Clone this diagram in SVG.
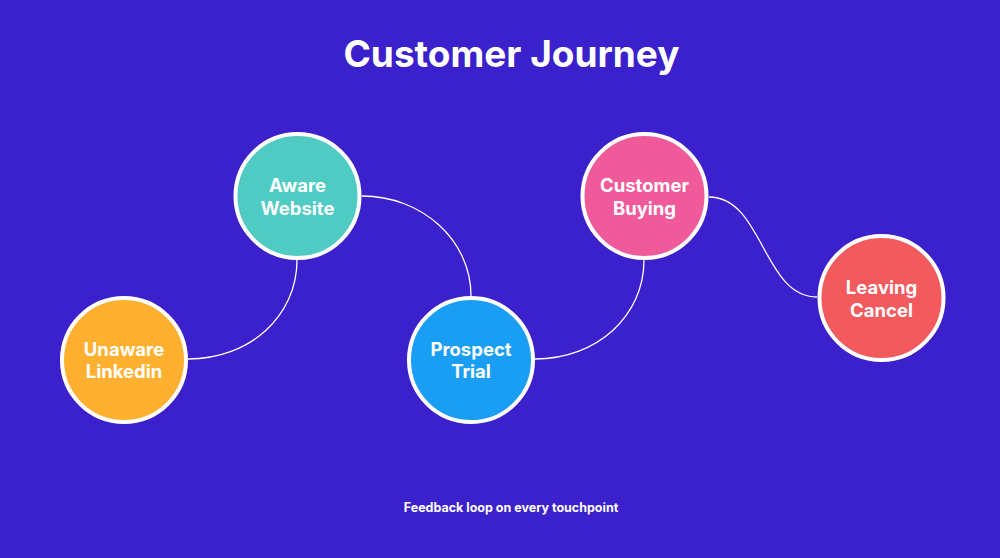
<svg xmlns="http://www.w3.org/2000/svg" width="1000" height="558" viewBox="0 0 1000 558">
<style>
.node{stroke:#fff;stroke-width:4}
.lbl{font-family:Inter,"Liberation Sans",sans-serif;font-weight:700;font-size:18.5px;fill:#fff;text-anchor:middle}
.conn{fill:none;stroke:#fff;stroke-width:1.3}
</style>
<rect width="1000" height="558" fill="#3A21CC"/>
<text x="511.5" y="67" font-family="Inter,'Liberation Sans',sans-serif" font-weight="700" font-size="37" fill="#fff" text-anchor="middle">Customer Journey</text>
<g id="connectors">
<path class="conn" d="M188,359 C250,359 297,316 297,260"/>
<path class="conn" d="M362,196 C422,196 471,240 471,296"/>
<path class="conn" d="M535,359 C597,359 644,316 644,260"/>
<path class="conn" d="M709,197 C763,197 763,297 817,297"/>
</g>
<g id="unaware"><circle class="node" cx="124" cy="360" r="62" fill="#FFB030"/><text class="lbl" x="124" y="356">Unaware</text><text class="lbl" x="124" y="378">Linkedin</text></g>
<g id="aware"><circle class="node" cx="297.5" cy="196" r="62" fill="#4FCBC4"/><text class="lbl" x="297.5" y="192">Aware</text><text class="lbl" x="297.5" y="215">Website</text></g>
<g id="prospect"><circle class="node" cx="471" cy="360" r="62" fill="#1A9EF3"/><text class="lbl" x="471" y="356">Prospect</text><text class="lbl" x="471" y="378">Trial</text></g>
<g id="customer"><circle class="node" cx="644.5" cy="196" r="62" fill="#F05A9A"/><text class="lbl" x="644.5" y="192">Customer</text><text class="lbl" x="644.5" y="215">Buying</text></g>
<g id="leaving"><circle class="node" cx="881.5" cy="298" r="62" fill="#F25A5E"/><text class="lbl" x="881.5" y="294">Leaving</text><text class="lbl" x="881.5" y="317">Cancel</text></g>
<text x="511" y="512" font-family="Inter,'Liberation Sans',sans-serif" font-weight="700" font-size="12.5" fill="#fff" text-anchor="middle">Feedback loop on every touchpoint</text>
</svg>
